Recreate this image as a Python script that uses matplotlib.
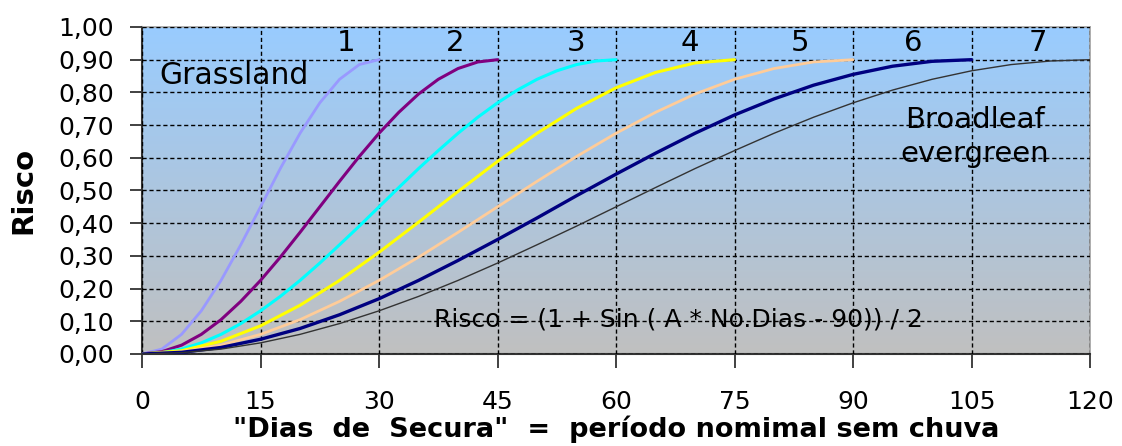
import numpy as np
import matplotlib
matplotlib.use("Agg")
import matplotlib.pyplot as plt

plt.rcParams['font.family'] = ['DejaVu Sans']

# values (risk vs. dry days), one list per class
x1 = [0, 2.5, 5, 7.5, 10, 12.5, 15, 17.5, 20, 22.5, 25, 27.5, 30]
y1 = [0.0, 0.015, 0.060, 0.132, 0.225, 0.334, 0.450, 0.567, 0.675, 0.768, 0.840, 0.885, 0.900]

x2 = [0, 2.5, 5, 7.5, 10, 12.5, 15, 17.5, 20, 22.5, 25, 27.5, 30, 32.5, 35, 37.5, 40, 42.5, 45]
y2 = [0.0, 0.007, 0.027, 0.060, 0.105, 0.161, 0.225, 0.296, 0.372, 0.450, 0.528, 0.604, 0.675,
      0.739, 0.795, 0.840, 0.873, 0.893, 0.900]

x3 = [0, 2.5, 5, 7.5, 10, 12.5, 15, 17.5, 20, 22.5, 25, 27.5, 30, 32.5, 35, 37.5, 40, 42.5,
      45, 47.5, 50, 52.5, 55, 57.5, 60]
y3 = [0.0, 0.004, 0.015, 0.034, 0.060, 0.093, 0.132, 0.176, 0.225, 0.278, 0.334, 0.391, 0.450,
      0.509, 0.567, 0.622, 0.675, 0.724, 0.768, 0.807, 0.840, 0.866, 0.885, 0.896, 0.900]

x4 = [0, 5, 10, 15, 20, 25, 30, 35, 40, 45, 50, 55, 60, 65, 70, 75]
y4 = [0.0, 0.010, 0.039, 0.086, 0.149, 0.225, 0.311, 0.403, 0.497, 0.589, 0.675, 0.751,
      0.814, 0.861, 0.890, 0.900]

x5 = [0, 5, 10, 15, 20, 25, 30, 35, 40, 45, 50, 55, 60, 65, 70, 75, 80, 85, 90]
y5 = [0.0, 0.007, 0.027, 0.060, 0.105, 0.161, 0.225, 0.296, 0.372, 0.450, 0.528, 0.604,
      0.675, 0.739, 0.795, 0.840, 0.873, 0.893, 0.900]

x6 = [0, 5, 10, 15, 20, 25, 30, 35, 40, 45, 50, 55, 60, 65, 70, 75, 80, 85, 90, 95, 100, 105]
y6 = [0.0, 0.005, 0.020, 0.045, 0.078, 0.120, 0.169, 0.225, 0.286, 0.350, 0.416, 0.484,
      0.550, 0.614, 0.675, 0.731, 0.780, 0.822, 0.855, 0.880, 0.895, 0.900]

x7 = [0, 5, 10, 15, 20, 25, 30, 35, 40, 45, 50, 55, 60, 65, 70, 75, 80, 85, 90, 95, 100,
      105, 110, 115, 120]
y7 = [0.0, 0.004, 0.015, 0.034, 0.060, 0.093, 0.132, 0.176, 0.225, 0.278, 0.334, 0.391,
      0.450, 0.509, 0.567, 0.622, 0.675, 0.724, 0.768, 0.807, 0.840, 0.866, 0.885, 0.896, 0.900]

curve_labels = ['1', '2', '3', '4', '5', '6', '7']
label_x = [25.8, 39.6, 54.9, 69.4, 83.3, 97.6, 113.4]

x_ticks = [0, 15, 30, 45, 60, 75, 90, 105, 120]
y_ticks = [0.0, 0.1, 0.2, 0.3, 0.4, 0.5, 0.6, 0.7, 0.8, 0.9, 1.0]

series = [(x1, y1, '#9999FF', 2.0), (x2, y2, '#800080', 2.2), (x3, y3, '#00FFFF', 2.2),
          (x4, y4, '#FFFF00', 2.2), (x5, y5, '#FFCC99', 2.0), (x6, y6, '#000080', 2.4),
          (x7, y7, '#333333', 1.0)]

fig = plt.figure(figsize=(11.22, 4.46), dpi=100)
ax = fig.add_axes([0.1266, 0.2063, 0.8449, 0.7332])

# vertical gradient background, light blue on top to grey at bottom
top = np.array([153, 204, 255]) / 255.0
bot = np.array([192, 192, 192]) / 255.0
t = np.linspace(0, 1, 256)[:, None]
grad = (top * t + bot * (1 - t))[:, None, :]
ax.imshow(grad, extent=[0, 120, 0, 1], origin='lower', aspect='auto', zorder=0)

ax.set_xlim(0, 120)
ax.set_ylim(0, 1)
ax.set_xticks(x_ticks)
ax.set_yticks(y_ticks)
ax.set_yticklabels([f'{v:.2f}'.replace('.', ',') for v in y_ticks])

ax.grid(True, color='black', linestyle=(0, (3, 2)), linewidth=1.0, zorder=1)
ax.set_axisbelow(False)

for xs, ys, c, lw in series:
    ax.plot(xs, ys, color=c, linewidth=lw, zorder=3, solid_capstyle='round')

for lab, lx in zip(curve_labels, label_x):
    ax.text(lx, 0.95, lab, fontsize=21, ha='center', va='center', zorder=4)

ax.text(2.2, 0.853, 'Grassland', fontsize=21.5, ha='left', va='center', zorder=4)
ax.text(105.4, 0.664, 'Broadleaf\nevergreen', fontsize=21, ha='center', va='center',
        linespacing=1.3, zorder=4)
ax.text(37.0, 0.104, 'Risco = (1 + Sin ( A * No.Dias - 90)) / 2', fontsize=18,
        ha='left', va='center', zorder=4)

for s in ['top', 'right']:
    ax.spines[s].set_color('#A0A0A0')
    ax.spines[s].set_linewidth(1.2)
for s in ['left', 'bottom']:
    ax.spines[s].set_color('#333333')
    ax.spines[s].set_linewidth(1.5)

ax.tick_params(axis='y', direction='out', length=9, width=1.3, color='#333333',
               labelsize=18, pad=11)
ax.tick_params(axis='x', direction='out', length=10, width=1.3, color='#333333',
               labelsize=18, pad=16)

ax.set_xlabel('"Dias  de  Secura"  =  período nomimal sem chuva', fontsize=19.5,
              fontweight='bold', labelpad=1)
ax.set_ylabel('Risco', fontsize=21, fontweight='bold', labelpad=15)

fig.savefig('out.png', dpi=100)
